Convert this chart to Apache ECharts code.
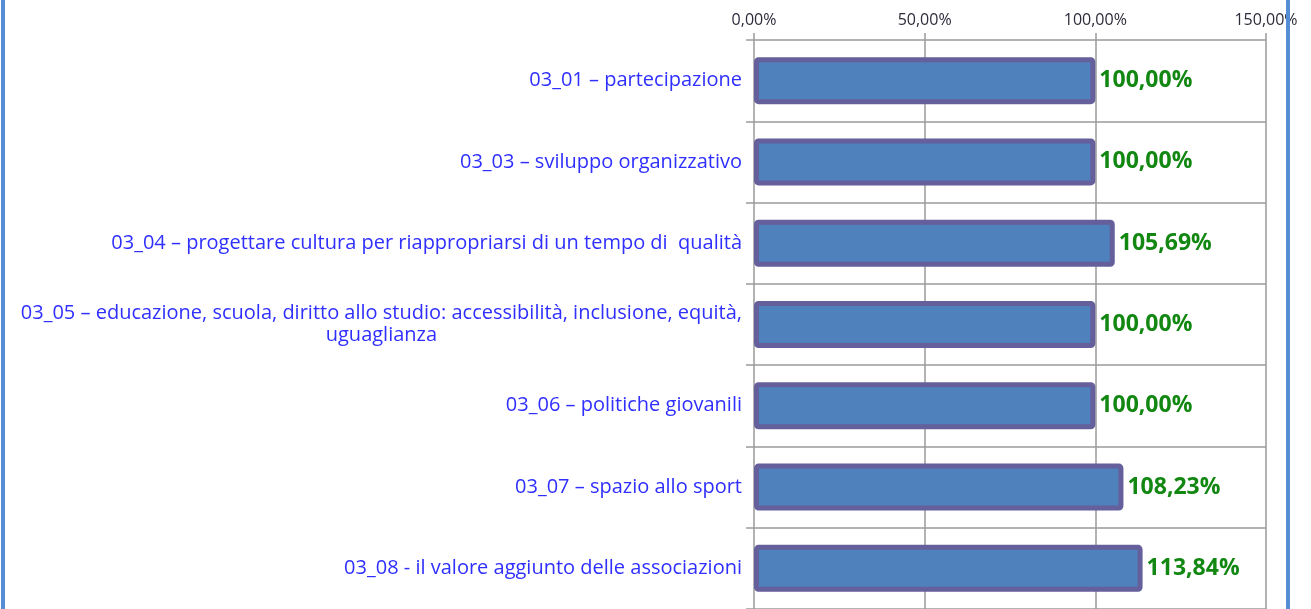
<!DOCTYPE html>
<html>
<head>
<meta charset="utf-8">
<script src="https://cdn.jsdelivr.net/npm/echarts@6/dist/echarts.min.js"></script>
<style>
  html, body { margin: 0; padding: 0; background: #fff; }
  #chart { width: 1311px; height: 609px; }
</style>
</head>
<body>
<div id="chart"></div>
<script>
// categories, top to bottom
const categories = [
  '03_01 – partecipazione',
  '03_03 – sviluppo organizzativo',
  '03_04 – progettare cultura per riappropriarsi di un tempo di  qualità',
  '03_05 – educazione, scuola, diritto allo studio: accessibilità, inclusione, equità,\nuguaglianza',
  '03_06 – politiche giovanili',
  '03_07 – spazio allo sport',
  '03_08 - il valore aggiunto delle associazioni'
]
const values = [100, 100, 105.69, 100, 100, 108.23, 113.84]
const xTicks = [0, 50, 100, 150]

const fmtPct = v => v.toFixed(2).replace('.', ',') + '%'

const chart = echarts.init(document.getElementById('chart'))

const catFont = { color: '#2f2fff', fontFamily: 'Open Sans', fontSize: 20, lineHeight: 22 }

chart.setOption({
  animation: false,
  grid: {
    left: 754,
    right: 45,
    top: 40,
    height: 572
  },
  xAxis: {
    type: 'value',
    position: 'top',
    min: xTicks[0],
    max: xTicks[xTicks.length - 1],
    interval: 50,
    axisLine: { show: false },
    axisTick: { show: true, length: 7, lineStyle: { color: '#9a9a9a', width: 1.5 } },
    axisLabel: {
      formatter: fmtPct,
      color: '#2e2a3a',
      fontFamily: 'Open Sans',
      fontSize: 16,
      margin: 12
    },
    splitLine: { show: true, lineStyle: { color: '#9a9a9a', width: 1.5 } }
  },
  yAxis: {
    type: 'category',
    inverse: true,
    data: categories,
    axisLine: { show: false },
    axisTick: { show: true, length: 8, lineStyle: { color: '#9a9a9a', width: 1.5 } },
    splitLine: { show: true, lineStyle: { color: '#9a9a9a', width: 1.5 } },
    axisLabel: Object.assign({
      margin: 12,
      formatter: function (v) {
        const parts = v.split('\n')
        if (parts.length === 1) return v
        return '{a|' + parts[0] + '}\n{c|' + parts[1] + '}'
      },
      rich: {
        a: Object.assign({ align: 'right' }, catFont),
        c: Object.assign({ align: 'center' }, catFont)
      }
    }, catFont)
  },
  series: [{
    type: 'bar',
    data: values,
    barWidth: 47,
    itemStyle: {
      color: '#4f81bd',
      borderColor: '#655f9b',
      borderWidth: 5,
      borderRadius: 2
    },
    label: {
      show: true,
      position: 'right',
      distance: 4,
      formatter: p => fmtPct(p.value),
      color: '#128712',
      fontFamily: 'Open Sans',
      fontWeight: 'bold',
      fontSize: 23
    }
  }],
  graphic: [
    { type: 'rect', z: 100, shape: { x: 1, y: 0, width: 4, height: 609 }, style: { fill: '#558ed5' } },
    { type: 'rect', z: 100, shape: { x: 1286, y: 0, width: 4, height: 609 }, style: { fill: '#558ed5' } }
  ]
})
</script>
</body>
</html>
